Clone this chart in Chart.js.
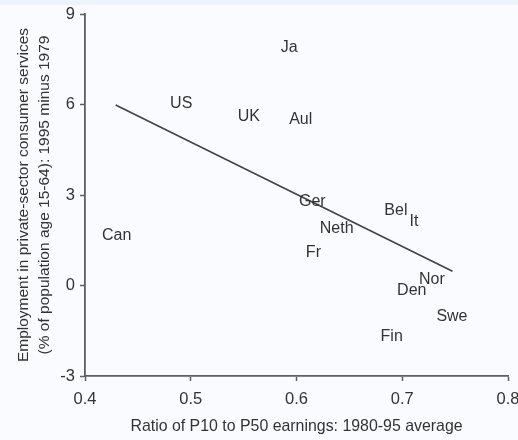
<!DOCTYPE html>
<html>
<head>
<meta charset="utf-8">
<script src="https://cdn.jsdelivr.net/npm/chart.js@4.4.1/dist/chart.umd.min.js"></script>
<style>
  html, body { margin: 0; padding: 0; background: #f9fbfe; }
  #band { position: absolute; left: 0; top: 0; width: 518px; height: 5px; background: #eef4fc; }
  #wrap { position: absolute; left: 0; top: 0; width: 518px; height: 440px; }
</style>
</head>
<body>
<div id="band"></div>
<div id="wrap"><canvas id="cv" width="518" height="440"></canvas></div>
<script>
// 국가 라벨 (텍스트가 곧 점)
const COUNTRIES = ["Ja","US","UK","Aul","Ger","Bel","It","Neth","Fr","Nor","Den","Swe","Fin","Can"];
const P10_P50 = [0.593,0.491,0.555,0.604,0.615,0.694,0.711,0.638,0.616,0.728,0.709,0.747,0.690,0.430];
const EMP_CHANGE = [7.94,6.08,5.65,5.58,2.86,2.56,2.19,1.96,1.16,0.27,-0.10,-0.96,-1.63,1.73];

// 회귀선 끝점
const FIT_X = [0.429, 0.7475];
const FIT_Y = [5.98, 0.47];

const X_TICKS = [0.4, 0.5, 0.6, 0.7, 0.8];
const Y_TICKS = [-3, 0, 3, 6, 9];

const FONT = "'Liberation Sans', Arial, sans-serif";
const AXIS_GRAY = "#5e5e5e";
const TEXT_GRAY = "#333333";

// 점 대신 국가 이름을 그림 (글자 시각 중심 맞추려고 2px 아래로)
const labelPlugin = {
  id: "countryLabels",
  afterDatasetsDraw(chart){
    const meta = chart.getDatasetMeta(0);
    const ctx = chart.ctx;
    ctx.save();
    ctx.font = "16px " + FONT;
    ctx.fillStyle = TEXT_GRAY;
    ctx.textAlign = "center";
    ctx.textBaseline = "middle";
    meta.data.forEach((pt, i) => {
      ctx.fillText(COUNTRIES[i], pt.x, pt.y + 2);
    });
    ctx.restore();
  }
};

const ctx = document.getElementById("cv").getContext("2d");
new Chart(ctx, {
  type: "scatter",
  data: {
    datasets: [
      {
        data: P10_P50.map((x, i) => ({ x, y: EMP_CHANGE[i] })),
        pointRadius: 0,
        pointHoverRadius: 0
      },
      {
        type: "line",
        data: FIT_X.map((x, i) => ({ x, y: FIT_Y[i] })),
        borderColor: "#444444",
        borderWidth: 1.7,
        pointRadius: 0,
        fill: false
      }
    ]
  },
  options: {
    responsive: false,
    animation: false,
    events: [],
    layout: { autoPadding: false, padding: { left: 0, right: 10, top: 14, bottom: 0 } },
    plugins: { legend: { display: false }, tooltip: { enabled: false } },
    scales: {
      x: {
        type: "linear",
        min: 0.4, max: 0.8,
        afterBuildTicks: (s) => { s.ticks = X_TICKS.map(v => ({ value: v })); },
        afterFit: (s) => { s.height = 64; s.paddingLeft = 0; s.paddingRight = 0; },
        border: { display: true, color: AXIS_GRAY, width: 1.8 },
        grid: { drawOnChartArea: false, drawTicks: true, tickLength: 5, color: AXIS_GRAY, tickWidth: 1.5 },
        ticks: { color: TEXT_GRAY, font: { family: FONT, size: 16.5 }, padding: 9,
                 callback: (v) => v.toFixed(1), maxRotation: 0 },
        title: { display: true, text: "Ratio of P10 to P50 earnings: 1980-95 average",
                 color: TEXT_GRAY, font: { family: FONT, size: 15.9 }, padding: { top: 0, bottom: 4 } }
      },
      y: {
        type: "linear",
        min: -3, max: 9,
        afterBuildTicks: (s) => { s.ticks = Y_TICKS.map(v => ({ value: v })); },
        afterFit: (s) => { s.width = 85; s.paddingTop = 0; s.paddingBottom = 0; },
        border: { display: true, color: AXIS_GRAY, width: 1.8 },
        grid: { drawOnChartArea: false, drawTicks: true, tickLength: 5, color: AXIS_GRAY, tickWidth: 1.5 },
        ticks: { color: TEXT_GRAY, font: { family: FONT, size: 16.5 }, padding: 5 },
        title: { display: true,
                 text: ["Employment in private-sector consumer services", "(% of population age 15-64): 1995 minus 1979"],
                 color: TEXT_GRAY, font: { family: FONT, size: 15.5, lineHeight: 1.3 }, padding: { top: 14, bottom: 0 } }
      }
    }
  },
  plugins: [labelPlugin]
});
</script>
</body>
</html>
